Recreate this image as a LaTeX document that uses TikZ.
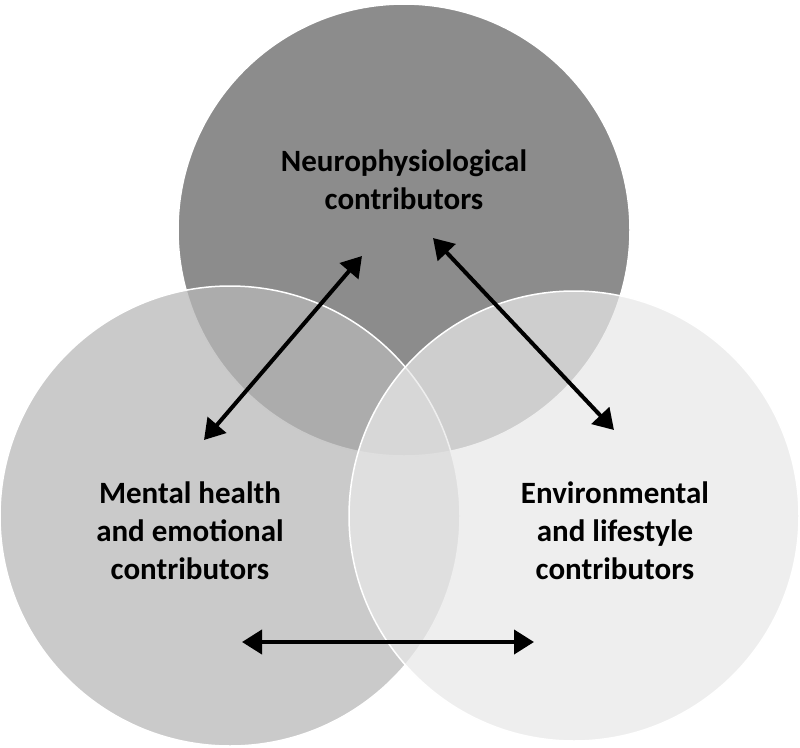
\documentclass[tikz,border=0pt]{standalone}
\usepackage{fontspec}
\setmainfont{Carlito}
\usetikzlibrary{arrows.meta}
\tikzset{
  ring/.style={draw=white, line width=1.5pt},
  label/.style={align=center, font=\fontsize{31}{38}\selectfont\bfseries},
  link/.style={line width=4pt, {Triangle[length=20pt,width=24pt]}-{Triangle[length=20pt,width=24pt]}}
}
\begin{document}
\begin{tikzpicture}[x=1pt,y=-1pt]
  \useasboundingbox (0,0) rectangle (800,747);
  % circles:
  \fill[ring, fill=black!45] (404,230) circle (226);
  \fill[ring, fill=black!28, fill opacity=0.75] (230,516) circle (230);
  \fill[ring, fill=black!9, fill opacity=0.72] (574,516) circle (225);
  % labels:
  \node[label] (neuro) at (404,180) {Neurophysiological\\contributors};
  \node[label] (mental) at (190,531) {Mental health\\and emotional\\contributors};
  \node[label] (env) at (615,531) {Environmental\\and lifestyle\\contributors};
  % arrows:
  \coordinate (nl) at (362,256);
  \coordinate (ml) at (204,440);
  \coordinate (nr) at (433,238);
  \coordinate (er) at (614,430);
  \coordinate (mb) at (242,642);
  \coordinate (eb) at (534,642);
  \draw[link] (nl) -- (ml);
  \draw[link] (nr) -- (er);
  \draw[link] (mb) -- (eb);
\end{tikzpicture}
\end{document}
